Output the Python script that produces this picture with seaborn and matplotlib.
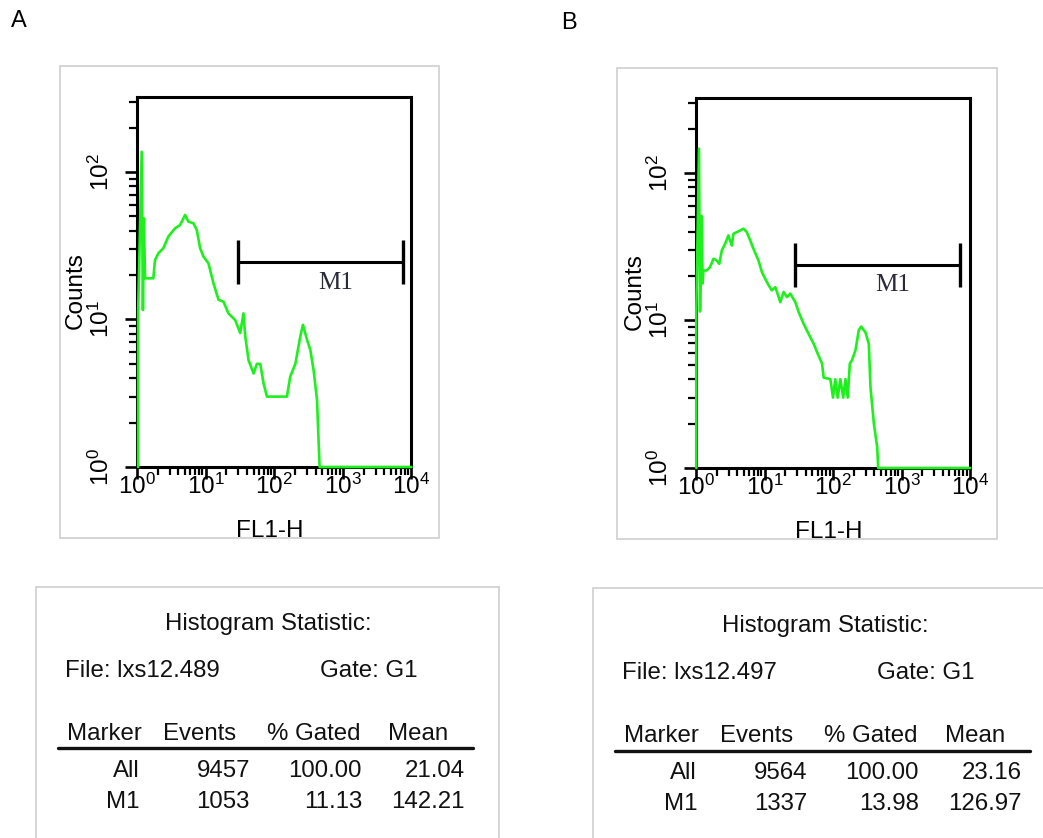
import numpy as np
import pandas as pd
import matplotlib
matplotlib.use("Agg")
import matplotlib.pyplot as plt
import seaborn as sns
from matplotlib import font_manager
from matplotlib.patches import Rectangle
from matplotlib.lines import Line2D
from matplotlib.ticker import LogLocator, NullFormatter

# ---------------- data ----------------
a_fl1 = [1.04, 1.04, 1.17, 1.22, 1.26, 1.31, 1.73, 1.83, 2.05, 2.42, 2.86, 3.59, 4.25, 5.02,
         5.61, 6.64, 7.43, 8.32, 9.29, 11.0, 13.0, 15.4, 18.2, 21.5, 27.0, 31.9, 35.6, 37.8,
         42.2, 49.9, 55.8, 62.5, 69.8, 78.2, 153, 171, 203, 240, 262, 300, 336, 375, 420,
         444, 458, 10000]
a_counts = [1, 11.6, 137, 11.6, 48.5, 19.0, 19.0, 25.3, 28.1, 30.4, 36.5, 41.5, 43.7, 51.1,
            46.0, 44.9, 40.4, 30.4, 26.7, 24.0, 17.6, 13.6, 13.2, 11.0, 9.9, 8.1, 11.0, 7.7,
            5.3, 4.3, 5.0, 5.0, 3.7, 3.0, 3.0, 4.1, 5.0, 7.7, 9.2, 7.3, 6.2, 4.5, 2.85,
            1.45, 1.0, 1.0]

b_fl1 = [1.01, 1.01, 1.106, 1.145, 1.21, 1.25, 1.28, 1.43, 1.60, 1.80, 2.01, 2.19, 2.38, 2.66,
         2.97, 3.33, 3.52, 3.94, 4.41, 4.93, 5.52, 6.18, 6.90, 8.17, 9.16, 10.2, 11.5, 12.8,
         14.4, 16.1, 17.0, 19.0, 21.3, 23.8, 28.2, 31.5, 37.2, 44.1, 52.2, 58.5, 69.2, 73.1,
         91.6, 100, 108, 117, 128, 141, 152, 164, 176, 190, 213, 238, 258, 298, 333, 353,
         395, 442, 457, 10000]
b_counts = [1, 11.7, 146, 11.5, 51, 17.8, 21.8, 21.8, 23.0, 26.2, 25.5, 24.2, 29.8, 33.1,
            37.7, 32.2, 38.7, 39.7, 40.7, 41.9, 39.7, 34.9, 30.6, 25.5, 21.3, 19.2, 17.3, 16.0,
            16.8, 14.4, 13.3, 15.6, 14.4, 15.2, 13.3, 11.4, 9.5, 8.1, 6.95, 6.1, 5.1, 4.1,
            4.0, 3.0, 4.0, 3.0, 4.0, 3.0, 4.0, 3.0, 5.1, 5.4, 6.3, 8.6, 9.1, 8.3, 6.95, 3.5,
            2.0, 1.38, 1.0, 1.0]

m1_a_range = [30, 7400]
m1_a_level = 24.5
m1_b_range = [28, 7100]
m1_b_level = 23.6

x_ticks = [1, 10, 100, 1000, 10000]
x_tick_labels = [r"$\mathregular{10^{0}}$", r"$\mathregular{10^{1}}$", r"$\mathregular{10^{2}}$",
                 r"$\mathregular{10^{3}}$", r"$\mathregular{10^{4}}$"]
y_ticks = [1, 10, 100]
y_tick_labels = [r"$\mathregular{10^{0}}$", r"$\mathregular{10^{1}}$", r"$\mathregular{10^{2}}$"]

stats_headers = ["Marker", "Events", "% Gated", "Mean"]
a_file = "File: lxs12.489"
b_file = "File: lxs12.497"
gate_label = "Gate: G1"
a_markers = ["All", "M1"]
a_events = ["9457", "1053"]
a_gated = ["100.00", "11.13"]
a_mean = ["21.04", "142.21"]
b_markers = ["All", "M1"]
b_events = ["9564", "1337"]
b_gated = ["100.00", "13.98"]
b_mean = ["23.16", "126.97"]

# ---------------- style ----------------
W, H = 1043, 838
sns.set_theme(style="ticks")
names = {f.name for f in font_manager.fontManager.ttflist}
narrow = "Liberation Sans Narrow" if "Liberation Sans Narrow" in names else "Liberation Sans"
plt.rcParams["font.family"] = [narrow, "DejaVu Sans"]
plt.rcParams["mathtext.fontset"] = "custom"
plt.rcParams["mathtext.rm"] = narrow
SANS = ["Liberation Sans", "DejaVu Sans"]
GREEN = "#1ef01e"
FRAME = "#d2d2d2"

fig = plt.figure(figsize=(W / 100, H / 100), dpi=100)
fig.patch.set_facecolor("white")


def fx(px):
    return px / W


def fy(py):
    return 1 - py / H


def frame(x0, y0, x1, y1):
    fig.add_artist(Rectangle((fx(x0), fy(y1)), fx(x1) - fx(x0), fy(y0) - fy(y1),
                             transform=fig.transFigure, fill=False, edgecolor=FRAME, lw=1.3))


frame(60, 66, 439, 538)
frame(617, 68, 997, 539)
frame(36, 587, 499, 850)
frame(593, 588, 1060, 850)

fig.text(fx(19), fy(21), "A", family=SANS, fontsize=17, ha="center", va="center", color="black")
fig.text(fx(569), fy(23), "B", family=SANS, fontsize=17, ha="center", va="center", color="black")


def panel(rect, xs, ys, m1_range, m1_level, m1_text_pos):
    ax = fig.add_axes(rect)
    ax.set_xscale("log")
    ax.set_yscale("log")
    df = pd.DataFrame({"FL1-H": xs, "Counts": ys})
    sns.lineplot(data=df, x="FL1-H", y="Counts", sort=False, estimator=None,
                 color=GREEN, lw=1.9, ax=ax)
    for ln in ax.lines:
        ln.set_clip_on(False)
        ln.set_zorder(5)
    # M1 marker
    ax.plot(m1_range, [m1_level, m1_level], color="black", lw=2.2, marker="|",
            markersize=31, markeredgewidth=2.4, zorder=4)
    ax.text(m1_text_pos[0], m1_text_pos[1], "M1", transform=ax.transAxes,
            family=["Liberation Serif", "DejaVu Serif"], fontsize=18, color="#2a2a3a",
            ha="center", va="center")
    ax.set_xlim(1, 10000)
    ax.set_ylim(1, 322)
    ax.set_xticks(x_ticks, labels=x_tick_labels)
    ax.set_yticks(y_ticks, labels=y_tick_labels, rotation=90, va="center")
    ax.xaxis.set_minor_locator(LogLocator(base=10, subs=np.arange(2, 10), numticks=20))
    ax.yaxis.set_minor_locator(LogLocator(base=10, subs=np.arange(2, 10), numticks=20))
    ax.xaxis.set_minor_formatter(NullFormatter())
    ax.yaxis.set_minor_formatter(NullFormatter())
    ax.tick_params(axis="both", which="major", direction="out", length=8.5, width=1.9,
                   color="black", labelsize=17.5, labelcolor="black")
    ax.tick_params(axis="both", which="minor", direction="out", length=5.5, width=1.6,
                   color="black")
    ax.tick_params(axis="x", which="major", pad=-4)
    ax.tick_params(axis="y", which="major", pad=8)
    for s in ax.spines.values():
        s.set_visible(True)
        s.set_linewidth(2.2)
        s.set_color("black")
    ax.set_xlabel("FL1-H", fontsize=17.5, color="black", va="center")
    ax.xaxis.set_label_coords(0.484, -0.172)
    ax.set_ylabel("Counts", fontsize=17.5, color="black", va="center")
    ax.yaxis.set_label_coords(-0.223, 0.478)
    ax.set_facecolor("white")
    ax.grid(False)
    return ax


panel([fx(137), fy(467), fx(411.5) - fx(137), fy(97) - fy(467)],
      a_fl1, a_counts, m1_a_range, m1_a_level, (0.725, 0.497))
panel([fx(696), fy(468), fx(970) - fx(696), fy(98) - fy(468)],
      b_fl1, b_counts, m1_b_range, m1_b_level, (0.719, 0.495))


def stats(dx, dy, file_text, markers, events, gated, mean, line_dy):
    kw = dict(family=SANS, fontsize=17.3, color="#111111", va="baseline")
    fig.text(fx(268 + dx), fy(630 + dy), "Histogram Statistic:", ha="center", **kw)
    fig.text(fx(65 + dx), fy(677 + dy), file_text, ha="left", **kw)
    fig.text(fx(320 + dx), fy(677 + dy), gate_label, ha="left", **kw)
    for hx, htxt in zip([67, 163, 267, 388], stats_headers):
        fig.text(fx(hx + dx), fy(740 + dy), htxt, ha="left", **kw)
    fig.add_artist(Line2D([fx(58 + dx), fx(473 + dx)], [fy(748 + line_dy), fy(748 + line_dy)],
                          transform=fig.transFigure, color="#111111", lw=2.4))
    cols = [markers, events, gated, mean]
    for i, ry in enumerate([777, 807]):
        for cx, col in zip([140, 250, 362, 465], cols):
            fig.text(fx(cx + dx), fy(ry + dy + i), col[i], ha="right", **kw)


stats(0, 0, a_file, a_markers, a_events, a_gated, a_mean, 0)
stats(557, 2, b_file, b_markers, b_events, b_gated, b_mean, 3)

fig.savefig("out.png", dpi=100, facecolor="white")
